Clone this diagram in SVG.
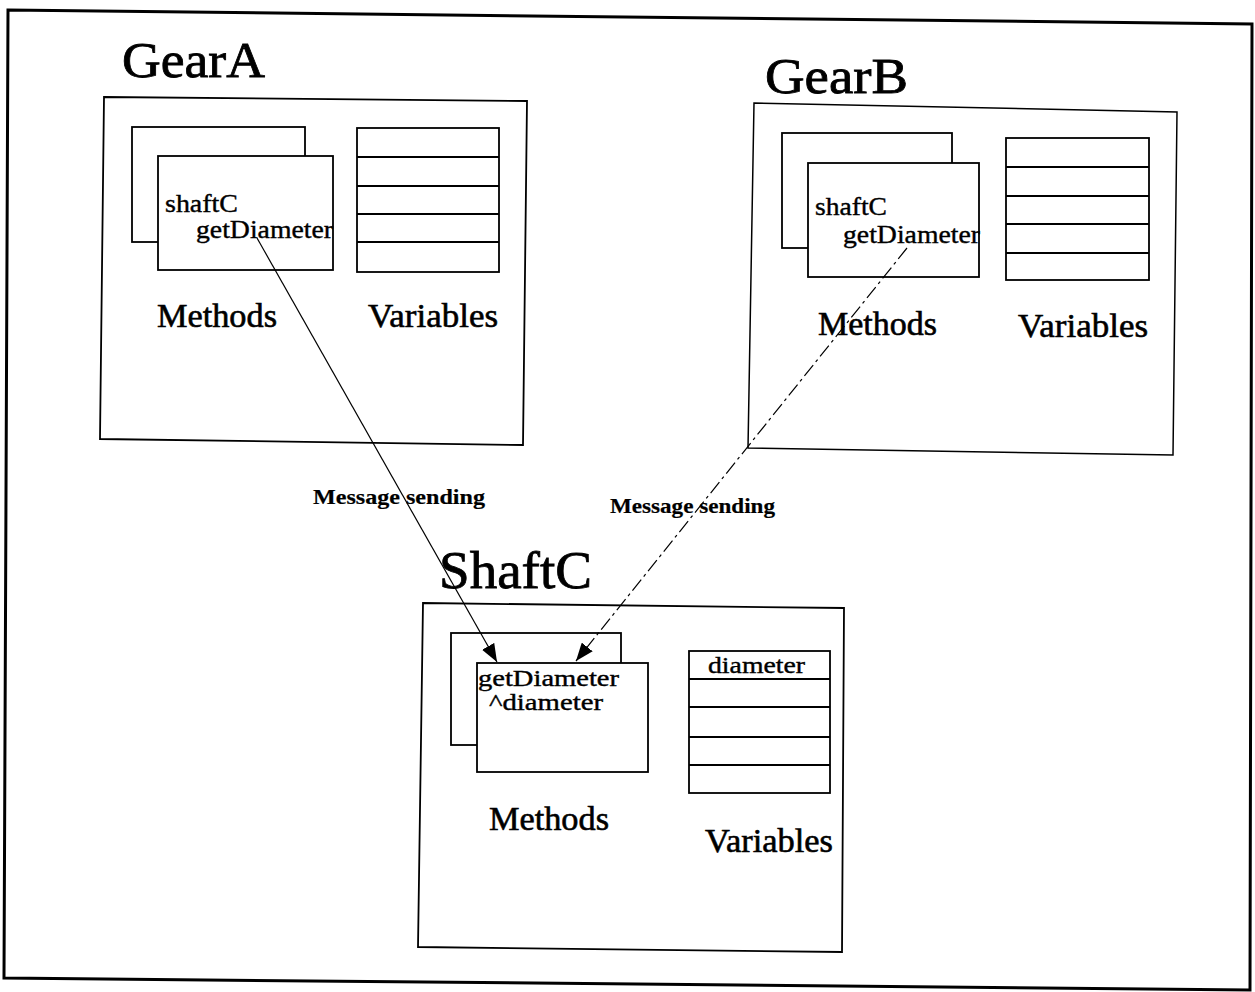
<svg xmlns="http://www.w3.org/2000/svg" width="1255" height="992" viewBox="0 0 1255 992">
<style>
.frame{fill:none;stroke:#000;stroke-width:3}
.box{fill:#fff;stroke:#000;stroke-width:1.8}
.boxd{fill:#fff;stroke:#000;stroke-width:1.5}
.row{stroke:#000;stroke-width:1.8}
.t{font-family:"Liberation Serif","Times New Roman",serif;fill:#000;stroke:#000;stroke-width:0.4}
.title{font-size:50px;stroke-width:0.8}
.lbl{font-size:34px;stroke-width:0.6}
.code{font-size:26px}
.msg{font-size:21px;font-weight:bold;stroke-width:0.2}
.conn{fill:none;stroke:#000;stroke-width:1.2}
.dash{stroke-dasharray:14 4 3 4}
</style>
<defs>
<marker id="ah" markerUnits="userSpaceOnUse" markerWidth="20" markerHeight="14" refX="18" refY="7" orient="auto">
<path d="M0,0 L18,7 L0,14 Z" fill="#000"/>
</marker>
</defs>
<rect x="0" y="0" width="1255" height="992" fill="#fff"/>
<polygon class="frame" points="8,10 1252,24 1250,990 4,978"/>

<g id="GearA">
<text class="t title" x="122" y="77" textLength="143" lengthAdjust="spacingAndGlyphs">GearA</text>
<polygon class="box" points="104,97 527,101 523,445 100,439"/>
<rect class="box" x="132" y="127" width="173" height="115"/>
<rect class="box" x="158" y="156" width="175" height="114"/>
<text class="t code" x="165" y="212" textLength="73" lengthAdjust="spacingAndGlyphs">shaftC</text>
<text class="t code" x="196" y="238" textLength="137" lengthAdjust="spacingAndGlyphs">getDiameter</text>
<rect class="box" x="357" y="128" width="142" height="144"/>
<line class="row" x1="357" y1="157" x2="499" y2="157"/>
<line class="row" x1="357" y1="186" x2="499" y2="186"/>
<line class="row" x1="357" y1="214" x2="499" y2="214"/>
<line class="row" x1="357" y1="242" x2="499" y2="242"/>
<text class="t lbl" x="157" y="327" textLength="120" lengthAdjust="spacingAndGlyphs">Methods</text>
<text class="t lbl" x="368" y="327" textLength="130" lengthAdjust="spacingAndGlyphs">Variables</text>
</g>

<g id="GearB">
<text class="t title" x="765" y="93" textLength="143" lengthAdjust="spacingAndGlyphs">GearB</text>
<polygon class="boxd" points="754,103 1177,112 1173,455 748,448"/>
<rect class="box" x="782" y="133" width="170" height="115"/>
<rect class="box" x="808" y="163" width="171" height="114"/>
<text class="t code" x="815" y="215" textLength="72" lengthAdjust="spacingAndGlyphs">shaftC</text>
<text class="t code" x="843" y="243" textLength="137" lengthAdjust="spacingAndGlyphs">getDiameter</text>
<rect class="box" x="1006" y="138" width="143" height="142"/>
<line class="row" x1="1006" y1="167" x2="1149" y2="167"/>
<line class="row" x1="1006" y1="196" x2="1149" y2="196"/>
<line class="row" x1="1006" y1="224" x2="1149" y2="224"/>
<line class="row" x1="1006" y1="253" x2="1149" y2="253"/>
<text class="t lbl" x="818" y="335" textLength="119" lengthAdjust="spacingAndGlyphs">Methods</text>
<text class="t lbl" x="1018" y="337" textLength="130" lengthAdjust="spacingAndGlyphs">Variables</text>
</g>

<g id="ShaftC">
<text class="t title" style="font-size:53px" x="439" y="588" textLength="153" lengthAdjust="spacingAndGlyphs">ShaftC</text>
<polygon class="box" points="423,603 844,608 842,952 418,947"/>
<rect class="box" x="451" y="633" width="170" height="112"/>
<rect class="box" x="477" y="663" width="171" height="109"/>
<text class="t" style="font-size:23px" x="478" y="686" textLength="141" lengthAdjust="spacingAndGlyphs">getDiameter</text>
<text class="t" style="font-size:23px" x="489" y="710" textLength="114" lengthAdjust="spacingAndGlyphs">^diameter</text>
<rect class="box" x="689" y="651" width="141" height="142"/>
<line class="row" x1="689" y1="679" x2="830" y2="679"/>
<line class="row" x1="689" y1="707" x2="830" y2="707"/>
<line class="row" x1="689" y1="737" x2="830" y2="737"/>
<line class="row" x1="689" y1="765" x2="830" y2="765"/>
<text class="t" style="font-size:24px" x="708" y="673" textLength="97" lengthAdjust="spacingAndGlyphs">diameter</text>
<text class="t lbl" x="489" y="830" textLength="120" lengthAdjust="spacingAndGlyphs">Methods</text>
<text class="t lbl" x="705" y="852" textLength="128" lengthAdjust="spacingAndGlyphs">Variables</text>
</g>

<g id="connectors">
<line class="conn" x1="257" y1="238" x2="497" y2="662" marker-end="url(#ah)"/>
<line class="conn dash" x1="907" y1="248" x2="576" y2="661" marker-end="url(#ah)"/>
<text class="t msg" x="313" y="504" textLength="172" lengthAdjust="spacingAndGlyphs">Message sending</text>
<text class="t msg" x="610" y="513" textLength="165" lengthAdjust="spacingAndGlyphs">Message sending</text>
</g>
</svg>
